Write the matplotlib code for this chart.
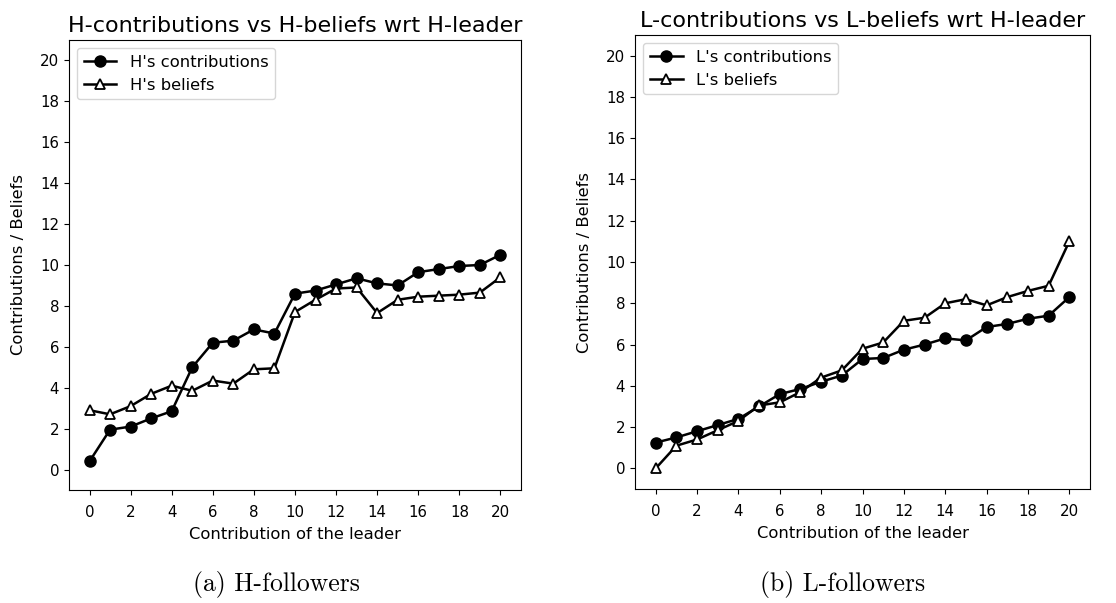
import numpy as np
import matplotlib
matplotlib.use('Agg')
import matplotlib.pyplot as plt

leader = np.arange(0, 21)

# H-followers
h_contrib = [0.4, 1.95, 2.1, 2.5, 2.85, 5.0, 6.2, 6.3, 6.85, 6.65, 8.6,
             8.75, 9.05, 9.35, 9.1, 9.0, 9.65, 9.8, 9.95, 10.0, 10.5]
h_belief = [2.9, 2.7, 3.1, 3.7, 4.1, 3.85, 4.35, 4.2, 4.9, 4.95, 7.7,
            8.3, 8.85, 8.9, 7.65, 8.3, 8.45, 8.5, 8.55, 8.65, 9.4]

# L-followers
l_contrib = [1.25, 1.5, 1.8, 2.1, 2.4, 3.0, 3.6, 3.85, 4.2, 4.5, 5.3,
             5.35, 5.75, 6.0, 6.3, 6.2, 6.85, 7.0, 7.25, 7.4, 8.3]
l_belief = [0.0, 1.1, 1.4, 1.85, 2.3, 3.05, 3.2, 3.7, 4.4, 4.75, 5.8,
            6.1, 7.15, 7.3, 8.0, 8.2, 7.9, 8.3, 8.6, 8.85, 11.0]

panels = [
    ("H-contributions vs H-beliefs wrt H-leader", "H", h_contrib, h_belief,
     [0.0618, 0.1874, 0.405, 0.7463], "(a) H-followers", 0.248),
    ("L-contributions vs L-beliefs wrt H-leader", "L", l_contrib, l_belief,
     [0.569, 0.189, 0.4077, 0.753], "(b) L-followers", 0.755),
]

fig = plt.figure(figsize=(11.16, 6.03), dpi=100)

for title, g, contrib, belief, pos, caption, cx in panels:
    ax = fig.add_axes(pos)
    ax.plot(leader, contrib, color='black', marker='o', markersize=8,
            linewidth=1.8, label="%s's contributions" % g)
    ax.plot(leader, belief, color='black', marker='^', markersize=7,
            markerfacecolor='white', markeredgecolor='black', markeredgewidth=1.3,
            linewidth=1.8, label="%s's beliefs" % g)
    ax.set_xlim(-1, 21)
    ax.set_ylim(-1, 21)
    ax.set_xticks(range(0, 21, 2))
    ax.set_yticks(range(0, 21, 2))
    ax.tick_params(labelsize=10.8)
    ax.tick_params(axis='x', pad=7)
    ax.set_xlabel("Contribution of the leader", fontsize=11.8, labelpad=5.5)
    ax.set_ylabel("Contributions / Beliefs", fontsize=11.8, labelpad=10.5)
    ax.set_title(title, fontsize=16)
    ax.legend(loc='upper left', fontsize=11.8)
    fig.text(cx, 0.03, caption, ha='center', va='center',
             family='cmr10', fontsize=18.5)

fig.savefig('out.png', dpi=100)
